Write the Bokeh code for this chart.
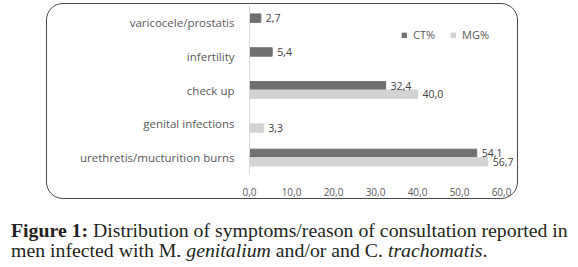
from bokeh.plotting import figure
from bokeh.models import (FactorRange, Range1d, ColumnDataSource, Legend, LegendItem,
                          FixedTicker, Div, CustomJSTickFormatter)
from bokeh.transform import dodge
from bokeh.layouts import column
from bokeh.embed import file_html
from bokeh.resources import INLINE
from bokeh.core.properties import value

categories = ["varicocele/prostatis", "infertility", "check up",
              "genital infections", "urethretis/mucturition burns"]
ct_values = [2.7, 5.4, 32.4, None, 54.1]
mg_values = [None, None, 40.0, 3.3, 56.7]
x_ticks = [0, 10, 20, 30, 40, 50, 60]
series_names = ["CT%", "MG%"]

CT_COLOR = "#707070"
MG_COLOR = "#d3d3d3"
LABEL_FONT = "Open Sans"


def fmt(v):
    return f"{v:.1f}".replace(".", ",")


def make_source(vals):
    cats = [c for c, v in zip(categories, vals) if v is not None]
    vs = [v for v in vals if v is not None]
    return ColumnDataSource(dict(cat=cats, val=vs, lab=[fmt(v) for v in vs]))


ct_src = make_source(ct_values)
mg_src = make_source(mg_values)

p = figure(width=470, height=194, output_backend="svg", toolbar_location=None,
           y_range=FactorRange(factors=list(reversed(categories))),
           x_range=Range1d(0, 63.8),
           min_border_left=202, min_border_right=0, min_border_top=1,
           min_border_bottom=20)
p.margin = (4, 0, 0, 47)
# rounded frame drawn around the chart (outline takes no layout space)
p.styles = {"outline": "1px solid #4a4a4a", "border-radius": "16px"}
p.outline_line_color = None
p.grid.grid_line_color = None
p.background_fill_color = None
p.border_fill_color = None

ct_r = p.hbar(y=dodge("cat", 0.125, range=p.y_range), right="val", left=0, height=0.25,
              source=ct_src, color=CT_COLOR)
mg_r = p.hbar(y=dodge("cat", -0.125, range=p.y_range), right="val", left=0, height=0.25,
              source=mg_src, color=MG_COLOR)

for src, off in ((ct_src, 0.125), (mg_src, -0.125)):
    p.text(x="val", y=dodge("cat", off, range=p.y_range), text="lab", source=src,
           x_offset=5, text_baseline="middle", text_align="left",
           text_font=value(LABEL_FONT), text_font_size="10.5px", text_color="#404040")

# axes
p.xaxis.ticker = FixedTicker(ticks=x_ticks)
p.xaxis.formatter = CustomJSTickFormatter(code="return tick.toFixed(1).replace('.', ',');")
p.xaxis.axis_line_color = None
p.xaxis.major_tick_line_color = None
p.xaxis.minor_tick_line_color = None
p.xaxis.major_label_standoff = 7
p.xaxis.major_label_text_font = LABEL_FONT
p.xaxis.major_label_text_font_size = "10px"
p.xaxis.major_label_text_color = "#595959"

p.yaxis.axis_line_color = "#d9d9d9"
p.yaxis.major_tick_line_color = None
p.yaxis.minor_tick_line_color = None
p.yaxis.major_label_standoff = 9
p.yaxis.major_label_text_font = LABEL_FONT
p.yaxis.major_label_text_font_size = "11.5px"
p.yaxis.major_label_text_color = "#595959"

legend = Legend(items=[LegendItem(label=series_names[0], renderers=[ct_r]),
                       LegendItem(label=series_names[1], renderers=[mg_r])],
                orientation="horizontal", location=(152, 132),
                glyph_width=6, glyph_height=6, label_standoff=6, spacing=15,
                label_text_font=LABEL_FONT, label_text_font_size="11px",
                label_text_color="#595959", border_line_color=None,
                background_fill_alpha=0, padding=0, margin=0)
p.add_layout(legend, "center")

caption = Div(text=("<b>Figure 1:</b> Distribution of symptoms/reason of consultation reported in<br>"
                    "men infected with M. <i>genitalium</i> and/or and C. <i>trachomatis</i>."),
              width=574, margin=(22, 0, 0, 11),
              styles={"font-family": "Liberation Serif", "font-size": "19.8px",
                      "line-height": "20px", "color": "#231f20", "white-space": "nowrap"})

layout = column(p, caption, margin=0, spacing=0)
open("out.html", "w").write(file_html(layout, INLINE))
